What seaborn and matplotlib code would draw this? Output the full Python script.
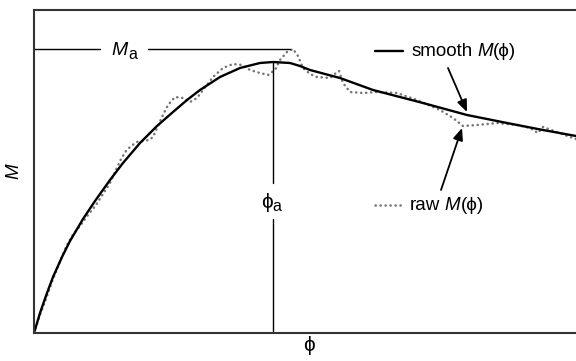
import numpy as np
import pandas as pd
import matplotlib
matplotlib.use("Agg")
import matplotlib.pyplot as plt
import seaborn as sns

# ---- data (arbitrary units) ----
phi_smooth = [0, 6, 13, 19, 28, 36, 49, 61, 76, 89, 106, 123, 139, 153, 166, 186,
              206, 226, 239, 256, 266, 276, 306, 339, 389, 433, 473, 509, 542]
M_smooth = [0, 20, 40, 56, 76, 92, 114, 132, 153, 170, 190, 207, 221, 233, 243, 256,
            265, 270, 271, 270, 267, 263, 255, 243, 230, 218, 210, 203, 197]

phi_raw = [0, 6, 13, 19, 26, 32, 38, 46, 54, 62, 69, 76, 82, 87, 92, 97, 103, 109,
           115, 119, 123, 128, 134, 141, 149, 156, 163, 169, 179, 189, 199, 208, 216,
           226, 234, 241, 246, 253, 259, 264, 269, 276, 283, 296, 302, 305, 309, 316,
           329, 343, 363, 383, 406, 419, 429, 443, 463, 483, 496, 504, 509, 523, 536, 542]
M_raw = [0, 18, 37, 54, 71, 86, 97, 107, 118, 128, 139, 150, 163, 174, 182, 187, 191, 192,
         193, 196, 205, 216, 228, 236, 235, 231, 235, 243, 256, 265, 269, 268, 263,
         260, 258, 263, 273, 281, 284, 277, 265, 259, 256, 255, 260, 262, 250, 241,
         240, 241, 240, 233, 223, 215, 207, 208, 210, 208, 205, 200, 206, 201, 196, 194]

df_s = pd.DataFrame({"phi": phi_smooth, "M": M_smooth})
df_r = pd.DataFrame({"phi": phi_raw, "M": M_raw})

sns.set_theme(style="white")
FAM = ["Liberation Sans", "DejaVu Sans"]
plt.rcParams["font.family"] = FAM
plt.rcParams["text.color"] = "black"
plt.rcParams["axes.labelcolor"] = "black"
PHI = "\u03d5"

fig = plt.figure(figsize=(5.76, 3.61), dpi=100)
ax = fig.add_axes([34 / 576, 28 / 361, 550 / 576, 323 / 361])
renderer = fig.canvas.get_renderer()

raw_color = "#767676"
raw_ls = (0, (0.1, 1.9))
sns.lineplot(data=df_r, x="phi", y="M", ax=ax, color=raw_color, lw=1.8,
             linestyle=raw_ls, dash_capstyle="round", sort=False, estimator=None)
sns.lineplot(data=df_s, x="phi", y="M", ax=ax, color="black", lw=1.7, sort=False,
             estimator=None)

ax.set_xlim(0, 550)
ax.set_ylim(0, 323)
ax.set_xticks([])
ax.set_yticks([])
for s in ["left", "top", "bottom"]:
    ax.spines[s].set_color("#333333")
    ax.spines[s].set_linewidth(1.5)
ax.spines["right"].set_visible(False)

ax.set_xlabel(PHI, fontsize=15, labelpad=2, family=FAM)
ax.set_ylabel("M", fontsize=13.5, labelpad=8, style="italic")


def pieces(x, y, parts, align="left", va_shift=0.0):
    """Draw consecutive text pieces starting at data (x, y) on a common baseline.
    parts: list of (text, fontsize, style, dy_px, gap_px)."""
    x0, y0 = ax.transData.transform((x, y))
    arts = []
    cur = x0
    for txt, fs, st, dy, gap in parts:
        cur += gap
        t = ax.text(cur, y0 + dy + va_shift, txt, fontsize=fs, style=st, family=FAM,
                    ha="left", va="baseline", transform=None)
        bb = t.get_window_extent(renderer)
        cur = bb.x1
        arts.append(t)
    total = cur - x0
    if align == "center":
        for t in arts:
            px, py = t.get_position()
            t.set_position((px - total / 2, py))
    return arts


# peak annotations derived from the data
i_pk = int(np.argmax(M_smooth))
phi_a = phi_smooth[i_pk]
M_pk = M_smooth[i_pk]
i_raw = int(np.argmax(M_raw))
M_a = M_raw[i_raw]

ax.plot([0, 66], [M_a, M_a], color="black", lw=1.0)
ax.plot([114, phi_raw[i_raw] - 3], [M_a, M_a], color="black", lw=1.0)
pieces(90, M_a, [("M", 14, "italic", 0, 0), ("a", 11.5, "normal", -4, 0.5)],
       align="center", va_shift=-6)

ax.plot([phi_a, phi_a], [M_pk, 150], color="black", lw=1.0)
ax.plot([phi_a, phi_a], [114, 0], color="black", lw=1.0)
pieces(phi_a - 2, 131, [(PHI, 15, "normal", 0, 0), ("a", 11.5, "normal", -3, 0)],
       align="center", va_shift=-6)

# legend-like labels
FS = 13.5
ax.plot([341, 369], [282, 282], color="black", lw=1.7)
pieces(378, 282, [("smooth", FS, "normal", 0, 0), ("M", FS, "italic", 0, 4),
                  ("(" + PHI + ")", FS, "normal", 0, 0.5)], va_shift=-5)
ax.plot([341, 371], [128, 128], color=raw_color, lw=1.8, linestyle=raw_ls,
        dash_capstyle="round")
pieces(376, 128, [("raw", FS, "normal", 0, 0), ("M", FS, "italic", 0, 4),
                  ("(" + PHI + ")", FS, "normal", 0, 0.5)], va_shift=-5)

arrow = dict(arrowstyle="-|>,head_length=0.6,head_width=0.25", color="black", lw=1.3,
             shrinkA=0, shrinkB=0)
ax.annotate("", xy=(433, 221), xytext=(414, 265), arrowprops=arrow)
ax.annotate("", xy=(428, 205), xytext=(407, 143), arrowprops=arrow)

fig.savefig("out.png", dpi=100)
